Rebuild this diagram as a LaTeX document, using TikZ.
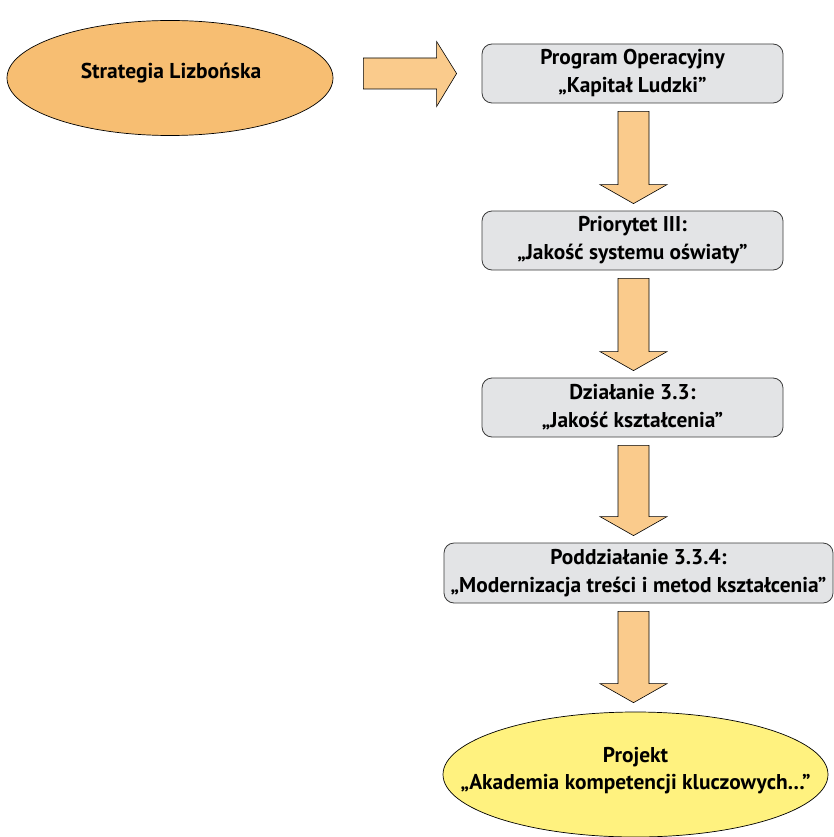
\documentclass[tikz,border=0pt]{standalone}
\usepackage{fontspec}
\setmainfont{PT Sans}
\usetikzlibrary{shapes.geometric,calc}
\definecolor{orangeE}{HTML}{F7BE72}
\definecolor{arrowF}{HTML}{FACB8C}
\definecolor{boxF}{HTML}{E3E4E6}
\definecolor{yellowE}{HTML}{FFF27F}
\definecolor{boxD}{HTML}{3A3A3A}
\tikzset{
  ell/.style={ellipse, draw=black, line width=0.7pt, inner sep=0pt},
  elltext/.style={inner sep=0pt, align=center,
    font=\fontsize{21.5}{27}\selectfont\bfseries},
  stagebox/.style={draw=boxD, fill=boxF, line width=0.8pt, rounded corners=10pt,
    minimum height=59pt, inner sep=0pt, align=center,
    font=\fontsize{21.4}{28}\selectfont\bfseries},
  blockarrow/.style={draw=black, fill=arrowF, line width=0.6pt, line join=miter}
}
\newcommand\blockdown[2]{%
  \path[blockarrow] let \p1=(#1.south), \p2=(#2.north) in
    (\x1-14.5pt,\y1-8pt) -- (\x1-14.5pt,\y2+26pt) -- (\x1-32.5pt,\y2+26pt)
    -- (\x1+1pt,\y2+7pt) -- (\x1+34.5pt,\y2+26pt) -- (\x1+16.5pt,\y2+26pt)
    -- (\x1+16.5pt,\y1-8pt) -- cycle;}
\begin{document}
\begin{tikzpicture}[x=1pt,y=-1pt]
\useasboundingbox (0,0) rectangle (834,837);
\node[ell, fill=orangeE, minimum width=326pt, minimum height=115pt] (sl) at (170,78) {};
\node[elltext] (slt) at (171,73) {Strategia Lizbońska};
\node[stagebox, minimum width=301pt] (b1) at (632.5,73.5) {Program Operacyjny\\„Kapitał Ludzki”};
\node[stagebox, minimum width=301pt] (b2) at (632.5,240.5) {Priorytet III:\\„Jakość systemu oświaty”};
\node[stagebox, minimum width=301pt] (b3) at (632.5,407.5) {Działanie 3.3:\\„Jakość kształcenia”};
\node[stagebox, minimum width=389pt, minimum height=60pt] (b4) at (638.5,573) {Poddziałanie 3.3.4:\\„Modernizacja treści i metod kształcenia”};
\node[ell, fill=yellowE, minimum width=385pt, minimum height=125pt] (pr) at (635.5,774.5) {};
\node[elltext, font=\fontsize{21.4}{27}\selectfont\bfseries] (prt) at (635.5,771)
  {Projekt\\„Akademia kompetencji kluczowych…”};
\path[blockarrow] let \p1=(sl.east), \p2=(b1.west) in
  (\x1+30pt,\y2+15.5pt) -- (\x2-45pt,\y2+15.5pt) -- (\x2-45pt,\y2+32pt)
  -- (\x2-25pt,\y2) -- (\x2-45pt,\y2-33pt) -- (\x2-45pt,\y2-15.5pt)
  -- (\x1+30pt,\y2-15.5pt) -- cycle;
\blockdown{b1}{b2}
\blockdown{b2}{b3}
\blockdown{b3}{b4}
\path[blockarrow] let \p1=(b4.south), \p2=(pr.north) in
    (\x1-20.5pt,\y1-8pt) -- (\x1-20.5pt,\y2+28pt) -- (\x1-38.5pt,\y2+28pt)
    -- (\x1-5pt,\y2+9pt) -- (\x1+28.5pt,\y2+28pt) -- (\x1+10.5pt,\y2+28pt)
    -- (\x1+10.5pt,\y1-8pt) -- cycle;
\end{tikzpicture}
\end{document}
